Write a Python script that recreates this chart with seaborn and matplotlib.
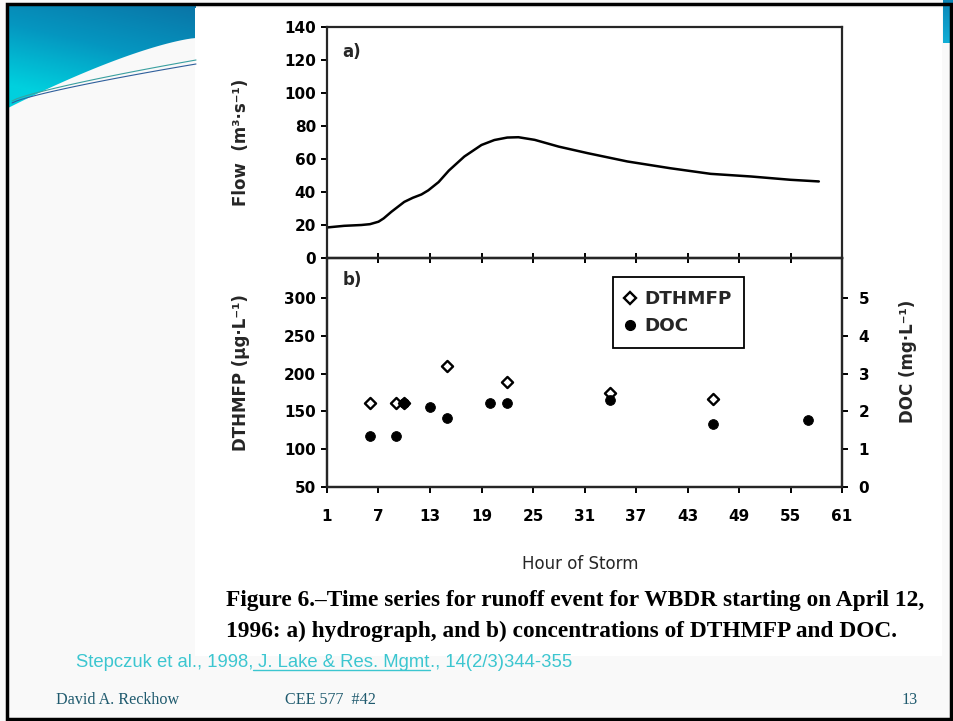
import numpy as np
import matplotlib
matplotlib.use("Agg")
import matplotlib.pyplot as plt
import seaborn as sns
from matplotlib.patches import Rectangle, Polygon
from matplotlib.lines import Line2D
from matplotlib.colors import LinearSegmentedColormap

# --- data ---
# a) hydrograph
flow_hour = [1, 3, 5, 6, 7, 7.6, 8.5, 9.5, 10, 11, 12, 12.8, 14, 15.2, 17, 19,
             20.5, 22, 23.3, 25.2, 28, 31.4, 36, 41, 45.7, 50.4, 55, 58.3]
flow = [18.5, 19.5, 20, 20.5, 22, 24, 28, 32, 34, 36.5, 38.5, 41, 46, 53, 61.5, 68.5,
        71.5, 73, 73.2, 71.6, 67.5, 63.5, 58.5, 54.4, 51, 49.4, 47.4, 46.4]

# b) concentrations
dthm_hour = [6, 9, 10, 15, 22, 34, 46]
dthmfp = [161, 161, 161, 210, 189, 174, 167]
doc_hour = [6, 9, 10, 13, 15, 20, 22, 34, 46, 57]
doc = [1.34, 1.34, 2.23, 2.12, 1.82, 2.21, 2.21, 2.30, 1.68, 1.78]

hour_ticks = list(range(1, 62, 6))
flow_ticks = list(range(0, 141, 20))
dthm_ticks = [50, 100, 150, 200, 250, 300]
doc_ticks = [0, 1, 2, 3, 4, 5]

sns.set_theme(style="ticks")
plt.rcParams['font.family'] = ['DejaVu Sans']
plt.rcParams['font.weight'] = 'bold'
plt.rcParams['axes.labelweight'] = 'bold'
plt.rcParams['font.size'] = 12.5
plt.rcParams['axes.linewidth'] = 1.6
plt.rcParams['xtick.color'] = 'black'
plt.rcParams['ytick.color'] = 'black'

W, H = 954, 721
fig = plt.figure(figsize=(W / 100, H / 100), dpi=100)
fig.patch.set_facecolor('#f9f9f9')


def box(x0, y0, x1, y1):
    return [x0 / W, 1 - y1 / H, (x1 - x0) / W, (y1 - y0) / H]


# slide background, drawn in pixel coordinates
bg = fig.add_axes([0, 0, 1, 1])
bg.axis('off')

# blue swoosh top-left
cmap = LinearSegmentedColormap.from_list('sw', ['#0a74a6', '#0596c0', '#00d0de'])
yy, xx = np.mgrid[0:1:100j, 0:1:100j]
grad = np.clip(yy * 0.85 + (1 - xx) * 0.35, 0, 1)
curve_x = np.linspace(196, 8, 40)
curve_y = 38 + (108 - 38) * ((196 - curve_x) / 188) ** 1.35
clip = Polygon([(8, 4), (196, 4)] + list(zip(curve_x, curve_y)), closed=True,
               transform=bg.transData, facecolor='none', edgecolor='none')
bg.add_patch(clip)
im = bg.imshow(grad, cmap=cmap, extent=(8, 196, 110, 4), origin='upper', aspect='auto')
im.set_clip_path(clip)
lx = np.linspace(12, 196, 40)
bg.plot(lx, 101 - (101 - 60) * ((lx - 12) / 184) ** 0.8, color='#3aa0a0', lw=0.8)
bg.plot(lx, 103 - (103 - 64) * ((lx - 12) / 184) ** 0.8, color='#2f5f9c', lw=0.8)

# scanned figure area
bg.add_patch(Rectangle((195, 8), 747, 648, facecolor='white', edgecolor='none'))
# slide border
bg.add_patch(Rectangle((7.5, 3.5), 943.5, 715.5, fill=False, edgecolor='black', lw=2.5))
# top-right blue tab
tab = np.linspace(0, 1, 50).reshape(-1, 1)
bg.imshow(tab, cmap=LinearSegmentedColormap.from_list('tab', ['#0a86b8', '#12aed6']),
          extent=(943, 954, 43, 0), origin='upper', aspect='auto')
bg.set_xlim(0, W)
bg.set_ylim(H, 0)

# caption and footer
cap = dict(family='Liberation Serif', weight='bold', size=16.8, color='black')
bg.text(226, 606, 'Figure 6.\u2013Time series for runoff event for WBDR starting on April 12,',
        ha='left', va='baseline', **cap)
bg.text(226, 637, '1996: a) hydrograph, and b) concentrations of DTHMFP and DOC.',
        ha='left', va='baseline', **cap)

cite = dict(family='Liberation Sans', weight='normal', size=13.3, color='#3cc6d0')
t1 = bg.text(76, 667, 'Stepczuk et al., 1998,', ha='left', va='baseline', **cite)
t2 = bg.annotate(' J. Lake & Res. Mgmt', xy=(1, 0), xycoords=t1, ha='left', va='bottom', **cite)
t3 = bg.annotate('., 14(2/3)344-355', xy=(1, 0), xycoords=t2, ha='left', va='bottom', **cite)

foot = dict(family='Liberation Serif', weight='normal', size=11.6, color='#1f5a6e')
bg.text(56, 704, 'David A. Reckhow', ha='left', va='baseline', **foot)
bg.text(285, 704, 'CEE 577  #42', ha='left', va='baseline', **foot)
bg.text(918, 704, '13', ha='right', va='baseline', **foot)

# --- a) hydrograph ---
ax1 = fig.add_axes(box(327, 27, 842, 258))
ax1.set_facecolor('none')
sns.lineplot(x=flow_hour, y=flow, ax=ax1, color='black', lw=1.8)
ax1.set_xlim(1, 61)
ax1.set_ylim(0, 140)
ax1.set_yticks(flow_ticks)
ax1.set_xticks(hour_ticks)
ax1.tick_params(axis='x', direction='inout', length=7, width=1.4, labelbottom=False)
ax1.tick_params(axis='y', direction='out', length=4, width=1.4, pad=4)
ax1.set_ylabel('Flow  (m\u00b3\u00b7s\u207b\u00b9)')
ax1.yaxis.set_label_coords(-0.15, 0.5)
ax1.text(0.03, 0.89, 'a)', transform=ax1.transAxes, ha='left', va='center', size=12)

# --- b) concentrations ---
ax2 = fig.add_axes(box(327, 258, 842, 487))
ax2.set_facecolor('none')
ax3 = ax2.twinx()
sns.scatterplot(x=dthm_hour, y=dthmfp, ax=ax2, marker='D', s=32, facecolor='white',
                edgecolor='black', linewidth=1.7, zorder=4)
sns.scatterplot(x=doc_hour, y=doc, ax=ax3, marker='o', s=50, color='black',
                edgecolor='black', zorder=3)
ax2.set_xlim(1, 61)
ax2.set_ylim(50, 353)
ax3.set_ylim(0, (353 - 50) / 50)
ax2.set_xticks(hour_ticks)
ax2.set_yticks(dthm_ticks)
ax3.set_yticks(doc_ticks)
ax2.tick_params(axis='x', direction='out', length=4, width=1.4, pad=12)
ax2.tick_params(axis='y', direction='out', length=4, width=1.4, pad=4)
ax3.tick_params(axis='y', direction='out', length=4, width=1.4, pad=8)
ax2.set_ylabel('DTHMFP (\u03bcg\u00b7L\u207b\u00b9)')
ax2.yaxis.set_label_coords(-0.15, 0.5)
ax3.set_ylabel('DOC (mg\u00b7L\u207b\u00b9)', rotation=90)
ax3.yaxis.set_label_coords(1.11, 0.55)
ax2.set_xlabel('Hour of Storm', weight='normal')
ax2.xaxis.set_label_coords(0.491, -0.295)
ax2.text(0.03, 0.905, 'b)', transform=ax2.transAxes, ha='left', va='center', size=12)

handles = [Line2D([], [], ls='none', marker='D', ms=5.8, mfc='white', mec='black', mew=1.7),
           Line2D([], [], ls='none', marker='o', ms=7, mfc='black', mec='black')]
leg = ax3.legend(handles, ['DTHMFP', 'DOC'], loc='upper left', bbox_to_anchor=(0.555, 0.915),
                 frameon=True, fancybox=False, framealpha=1, edgecolor='black',
                 fontsize=13.2, borderpad=0.7, handletextpad=0.5, labelspacing=0.5,
                 handlelength=0.5, borderaxespad=0)
leg.get_frame().set_linewidth(1.3)

# underline for the journal name
fig.canvas.draw()
bb = t2.get_window_extent()
bg.add_line(Line2D([bb.x0, bb.x1], [669.5, 669.5], color='#3cc6d0', lw=1.0))

fig.savefig('out.png', dpi=100, facecolor=fig.get_facecolor())
